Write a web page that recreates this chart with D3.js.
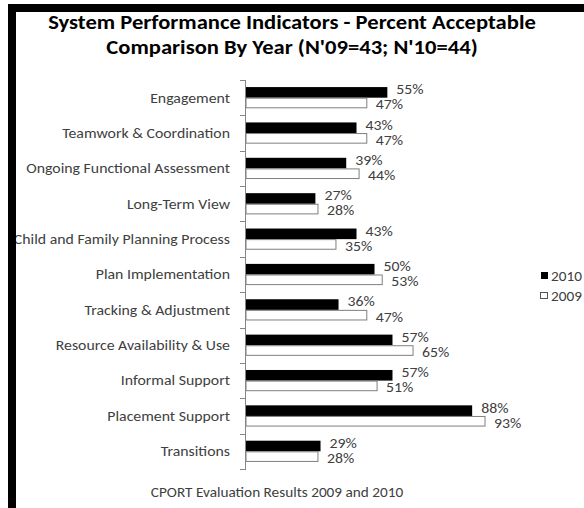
<!DOCTYPE html>
<html>
<head>
<meta charset="utf-8">
<script src="https://cdn.jsdelivr.net/npm/d3@7"></script>
<style>
  html, body { margin: 0; padding: 0; background: #fff; }
  svg { display: block; }
  text { font-family: Carlito, Lato, "Open Sans", sans-serif; }
</style>
</head>
<body>
<svg id="chart" width="584" height="508"></svg>
<script>
// System performance indicators, percent acceptable, by year
const categories = [
  "Engagement",
  "Teamwork & Coordination",
  "Ongoing Functional Assessment",
  "Long-Term View",
  "Child and Family Planning Process",
  "Plan Implementation",
  "Tracking & Adjustment",
  "Resource Availability & Use",
  "Informal Support",
  "Placement Support",
  "Transitions"
];
const values2010 = [55, 43, 39, 27, 43, 50, 36, 57, 57, 88, 29];
const values2009 = [47, 47, 44, 28, 35, 53, 47, 65, 51, 93, 28];
const seriesNames = ["2010", "2009"];
const titleLines = [
  "System Performance Indicators - Percent Acceptable",
  "Comparison By Year (N'09=43; N'10=44)"
];
const footerText = "CPORT Evaluation Results 2009 and 2010";

const svg = d3.select("#chart");
const W = 584, H = 508;
const SX = 1.13; // horizontal stretch applied to all text

// place a text node at (px,py) with the horizontal stretch
function place(sel, px, py) {
  sel.attr("transform", (d, i) => `translate(${px(d, i)},${py(d, i)}) scale(${SX},1)`);
  return sel;
}

const rows = categories.map((c, i) => ({ cat: c, v2010: values2010[i], v2009: values2009[i] }));

const x = d3.scaleLinear().domain([0, 100]).range([246, 503]);
const y = d3.scaleBand().domain(categories).range([80, 469]).paddingInner(0.4).paddingOuter(0.2);
const sub = d3.scaleBand().domain(seriesNames).range([0, y.bandwidth()]);

// Title
place(svg.append("g").selectAll("text").data(titleLines).join("text"),
    () => 292, (d, i) => 29 + i * 25)
  .attr("text-anchor", "middle")
  .attr("font-size", 20).attr("font-weight", "bold").attr("fill", "#000")
  .text(d => d);

// Bars
const groups = svg.append("g").selectAll("g").data(rows).join("g")
  .attr("transform", d => `translate(0,${y(d.cat)})`);

groups.append("rect")
  .attr("x", x(0)).attr("y", sub("2010"))
  .attr("width", d => x(d.v2010) - x(0)).attr("height", sub.bandwidth())
  .attr("fill", "#000");

groups.append("rect")
  .attr("x", x(0)).attr("y", sub("2009") + 0.5)
  .attr("width", d => x(d.v2009) - x(0)).attr("height", sub.bandwidth() - 1)
  .attr("fill", "#fff").attr("stroke", "#7f7f7f").attr("stroke-width", 1);

// Value labels
place(groups.append("text"),
    d => x(d.v2010) + 9, () => sub("2010") + sub.bandwidth() / 2 - 3)
  .attr("dy", "0.35em").attr("font-size", 14).attr("fill", "#404040")
  .text(d => d.v2010 + "%");

place(groups.append("text"),
    d => x(d.v2009) + 9, () => sub("2009") + sub.bandwidth() / 2 + 1.5)
  .attr("dy", "0.35em").attr("font-size", 14).attr("fill", "#404040")
  .text(d => d.v2009 + "%");

// Category axis with ticks between categories
const axisG = svg.append("g");
axisG.append("line")
  .attr("x1", x(0) - 0.5).attr("x2", x(0) - 0.5)
  .attr("y1", y.range()[0]).attr("y2", y.range()[1])
  .attr("stroke", "#868686");
const step = y.step();
const tickYs = d3.range(categories.length + 1).map(i => y.range()[0] + i * step);
axisG.selectAll(".tick").data(tickYs).join("line")
  .attr("x1", x(0) - 6).attr("x2", x(0))
  .attr("y1", d => Math.round(d) + 0.5).attr("y2", d => Math.round(d) + 0.5)
  .attr("stroke", "#868686");
place(axisG.selectAll(".cat").data(categories).join("text"),
    () => 230, d => y(d) + y.bandwidth() / 2)
  .attr("dy", "0.35em").attr("text-anchor", "end")
  .attr("font-size", 14).attr("fill", "#404040")
  .text(d => d);

// Legend
const legend = svg.append("g");
legend.append("rect").attr("x", 541).attr("y", 272).attr("width", 7).attr("height", 7).attr("fill", "#000");
legend.append("rect").attr("x", 540.5).attr("y", 292.5).attr("width", 7).attr("height", 6)
  .attr("fill", "#fff").attr("stroke", "#555");
place(legend.selectAll("text").data(seriesNames).join("text"),
    () => 551, (d, i) => 276 + i * 20)
  .attr("dy", "0.35em").attr("font-size", 13.5).attr("fill", "#404040")
  .text(d => d);

// Footer caption
place(svg.append("text"), () => 277, () => 492)
  .attr("dy", "0.35em")
  .attr("text-anchor", "middle").attr("font-size", 13.5).attr("fill", "#404040")
  .text(footerText);

// Frame edges on the top and left
svg.append("rect").attr("x", 8).attr("y", 4).attr("width", W - 8).attr("height", 8).attr("fill", "#000");
svg.append("rect").attr("x", 8).attr("y", 4).attr("width", 8).attr("height", H - 4).attr("fill", "#000");
</script>
</body>
</html>
